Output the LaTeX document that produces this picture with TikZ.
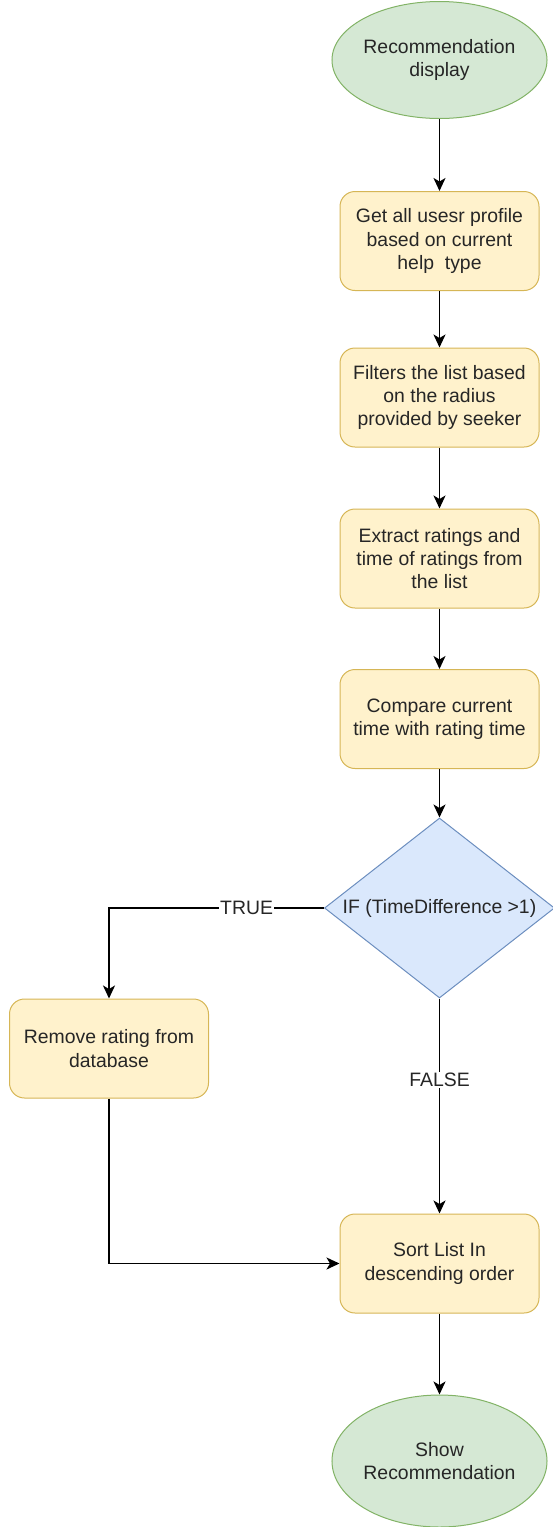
\documentclass[tikz,border=0pt]{standalone}
\usepackage{fontspec}
\setmainfont{Liberation Sans}
\usetikzlibrary{shapes.geometric,arrows.meta}

\definecolor{termfill}{HTML}{D5E8D4}
\definecolor{termline}{HTML}{82B366}
\definecolor{procfill}{HTML}{FFF2CC}
\definecolor{procline}{HTML}{D6B656}
\definecolor{decfill}{HTML}{DAE8FC}
\definecolor{decline}{HTML}{6C8EBF}

\tikzset{
    terminal/.style = {ellipse, draw = termline, fill = termfill, line width = 1pt,
        minimum width = 200pt, align = center, inner sep = 0pt},
    process/.style = {rectangle, rounded corners = 15pt, draw = procline, fill = procfill,
        line width = 1pt, minimum width = 199pt, minimum height = 99pt, align = center},
    decision/.style = {diamond, aspect = 1.28, draw = decline, fill = decfill, line width = 1pt,
        minimum width = 230pt, minimum height = 180pt, inner sep = 0pt, align = center},
    flow/.style = {line width = 1.7pt, -{Stealth[length = 13pt, width = 12pt, inset = 3.5pt]}},
    edgetext/.style = {fill = white, inner sep = 1pt}
}

\begin{document}
\begin{tikzpicture}[x = 1pt, y = -1pt, font = \fontsize{19.4}{23.3}\selectfont, text = black!85]

    \useasboundingbox (0, 0) rectangle (552, 1527);

    % Start and end
    \node[terminal, minimum height = 117pt] (start) at (439.5, 60) {Recommendation\\display};
    \node[terminal, minimum height = 132pt] (show) at (439.5, 1461) {Show\\Recommendation};

    % Steps
    \node[process] (get) at (439.5, 241) {Get all usesr profile\\based on current\\help\ \ type};
    \node[process] (filter) at (439.5, 397.5) {Filters the list based\\on the radius\\provided by seeker};
    \node[process] (extract) at (439.5, 558.5) {Extract ratings and\\time of ratings from\\the list};
    \node[process] (compare) at (439.5, 719) {Compare current\\time with rating time};
    \node[process] (remove) at (109, 1048.5) {Remove rating from\\database};
    \node[process] (sort) at (439.5, 1263.5) {Sort List In\\descending order};

    % Check
    \node[decision] (check) at (439.5, 908) {IF (TimeDifference >1)};

    % Arrows
    \draw[flow] (start) -- (get);
    \draw[flow] (get) -- (filter);
    \draw[flow] (filter) -- (extract);
    \draw[flow] (extract) -- (compare);
    \draw[flow] (compare) -- (check);
    \draw[flow] (check.west) -| node[edgetext, pos = 0.18] {TRUE} (remove.north);
    \draw[flow] (check.south) -- node[edgetext, pos = 0.38] {FALSE} (sort.north);
    \draw[flow] (remove.south) |- (sort.west);
    \draw[flow] (sort) -- (show);

\end{tikzpicture}
\end{document}
